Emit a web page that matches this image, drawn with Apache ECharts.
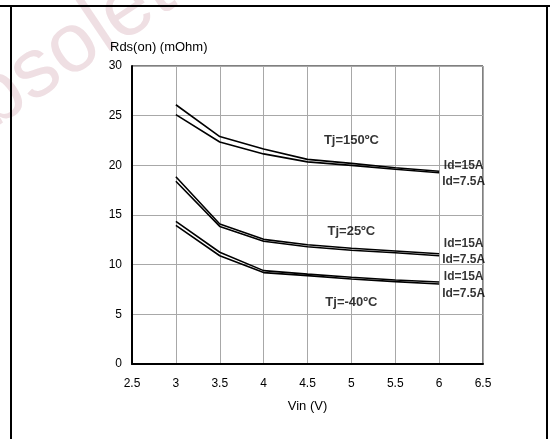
<!DOCTYPE html>
<html>
<head>
<meta charset="utf-8">
<script src="https://cdn.jsdelivr.net/npm/echarts@6/dist/echarts.min.js"></script>
<style>html,body{margin:0;padding:0;background:#fff;}#c{width:550px;height:439px;}</style>
</head>
<body>
<div id="c"></div>
<script>
// Data
var vin = [3, 3.5, 4, 4.5, 5, 5.5, 6];
var tj150_id15  = [26.1, 22.9, 21.65, 20.6, 20.2, 19.75, 19.4];
var tj150_id7_5 = [25.1, 22.35, 21.15, 20.35, 20.0, 19.6, 19.25];
var tj25_id15   = [18.85, 14.1, 12.55, 12.0, 11.65, 11.38, 11.1];
var tj25_id7_5  = [18.4, 13.85, 12.35, 11.8, 11.45, 11.2, 10.9];
var tjm40_id15  = [14.35, 11.25, 9.4, 9.05, 8.73, 8.46, 8.26];
var tjm40_id7_5 = [13.95, 10.9, 9.2, 8.9, 8.56, 8.29, 8.06];
var xTicks = [2.5, 3, 3.5, 4, 4.5, 5, 5.5, 6, 6.5];
var yTicks = [0, 5, 10, 15, 20, 25, 30];
var tempLabels = [[5.0, 22.5, 'Tj=150ºC'], [5.0, 13.3, 'Tj=25ºC'], [5.0, 6.2, 'Tj=-40ºC']];
var idLabels = [[6.28, 20.0, 'Id=15A'], [6.28, 18.4, 'Id=7.5A'], [6.28, 12.1, 'Id=15A'], [6.28, 10.55, 'Id=7.5A'], [6.28, 8.8, 'Id=15A'], [6.28, 7.1, 'Id=7.5A']];

var FONT = '"Liberation Sans", Arial, sans-serif';
function pairs(ys){ return vin.map(function(x,i){ return [x, ys[i]]; }); }
function lineSeries(ys){
  return { type:'line', data:pairs(ys), symbol:'none', silent:true,
    lineStyle:{color:'#000', width:1.6}, z:5 };
}
function labelSeries(arr, size){
  return { type:'scatter', symbolSize:0, silent:true, z:6,
    data: arr.map(function(a){ return {value:[a[0], a[1]], name:a[2]}; }),
    label:{show:true, position:'inside', formatter:function(p){return p.name;},
      color:'#000', fontFamily:FONT, fontWeight:'bold', fontSize:size} };
}

var chart = echarts.init(document.getElementById('c'), null, {renderer:'canvas'});
chart.setOption({
  backgroundColor:'#fff',
  animation:false,
  grid:{left:132, top:66, right:67, bottom:75, show:true, borderColor:'#000', borderWidth:1},
  xAxis:{type:'value', min:2.5, max:6.5, interval:0.5,
    name:'Vin (V)', nameLocation:'middle', nameGap:36,
    nameTextStyle:{fontFamily:FONT, fontSize:13, color:'#000'},
    axisLine:{show:true, onZero:false, lineStyle:{color:'#000', width:2}},
    axisTick:{show:false},
    axisLabel:{margin:14, fontFamily:FONT, fontSize:12, color:'#000',
      formatter:function(v){ return xTicks.indexOf(v) >= 0 ? String(v) : ''; }},
    splitLine:{show:true, lineStyle:{color:'#a8a8a8', width:1}}
  },
  yAxis:{type:'value', min:0, max:30, interval:5,
    axisLine:{show:true, lineStyle:{color:'#000', width:2}},
    axisTick:{show:false},
    axisLabel:{margin:10, fontFamily:FONT, fontSize:12, color:'#000',
      formatter:function(v){ return yTicks.indexOf(v) >= 0 ? String(v) : ''; }},
    splitLine:{show:true, lineStyle:{color:'#a8a8a8', width:1}}
  },
  graphic:[
    {type:'text', z:0, x:-98, y:112, rotation:0.593,
      style:{text:'Obsolete', font:'84px "Liberation Sans", Arial, sans-serif', fill:'#efdfe3'}},
    {type:'line', z:10, shape:{x1:0, y1:6, x2:550, y2:6}, style:{stroke:'#000', lineWidth:2}},
    {type:'line', z:10, shape:{x1:11, y1:6, x2:11, y2:439}, style:{stroke:'#000', lineWidth:2}},
    {type:'line', z:10, shape:{x1:547, y1:6, x2:547, y2:439}, style:{stroke:'#000', lineWidth:2}},
    {type:'text', z:10, x:110, y:41,
      style:{text:'Rds(on) (mOhm)', font:'13px "Liberation Sans", Arial, sans-serif', fill:'#000'}}
  ],
  series:[
    lineSeries(tj150_id15), lineSeries(tj150_id7_5),
    lineSeries(tj25_id15), lineSeries(tj25_id7_5),
    lineSeries(tjm40_id15), lineSeries(tjm40_id7_5),
    labelSeries(tempLabels, 13),
    labelSeries(idLabels, 12)
  ]
});
</script>
</body>
</html>
